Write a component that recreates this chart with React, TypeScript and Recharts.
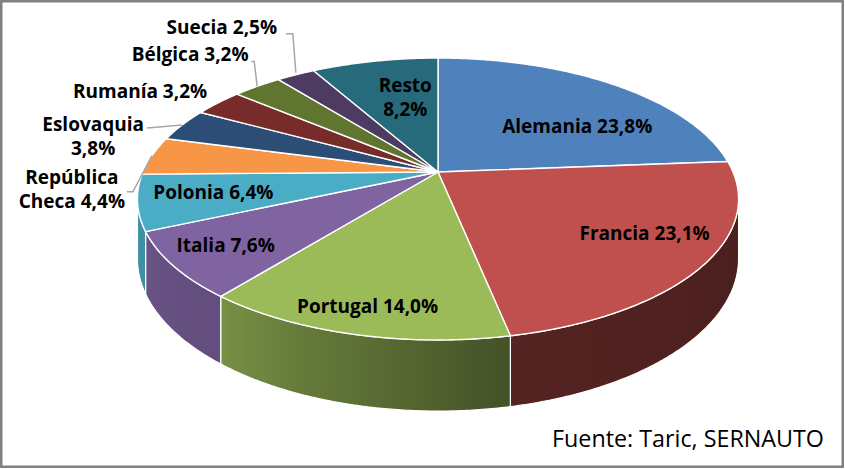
import React from 'react';
import { PieChart, Pie, Cell } from 'recharts';

// ---- data ----
const countries = ['Alemania', 'Francia', 'Portugal', 'Italia', 'Polonia', 'República Checa', 'Eslovaquia', 'Rumanía', 'Bélgica', 'Suecia', 'Resto'];
const shares = [23.8, 23.1, 14.0, 7.6, 6.4, 4.4, 3.8, 3.2, 3.2, 2.5, 8.2];
const colors = ['#4f81bd', '#c0504d', '#9bbb59', '#8064a2', '#4bacc6', '#f79646', '#2c4d75', '#772c2a', '#5f7530', '#4d3b62', '#276a7c'];
const sourceText = 'Fuente: Taric, SERNAUTO';

const data = countries.map((name, i) => ({ name, value: shares[i] }));

// ---- 3D projection (perspective tilt) ----
const K = 0.1915; // perspective strength
const BS = 0.4603; // vertical squash
const DEP = 0.195; // thickness
const SIG = (Math.asin(K) * 180) / Math.PI;

function proj(cx: number, cy: number, R: number, aDeg: number, r: number, d: number): [number, number] {
  const a = (aDeg * Math.PI) / 180;
  const X = r * Math.cos(a);
  const Y = r * Math.sin(a);
  const w = 1 + K * Y;
  return [cx + (R * X) / w, cy + (R * (-BS * Y + DEP * d)) / w];
}

const SHADE: [number, number][] = [
  [-169, 0.86],
  [-129, 0.77],
  [-79, 0.44],
  [-11, 0.38],
];
function shadeAt(a: number) {
  if (a <= SHADE[0][0]) return SHADE[0][1];
  for (let i = 1; i < SHADE.length; i++) {
    if (a <= SHADE[i][0]) {
      const [a0, f0] = SHADE[i - 1];
      const [a1, f1] = SHADE[i];
      return f0 + ((f1 - f0) * (a - a0)) / (a1 - a0);
    }
  }
  return SHADE[SHADE.length - 1][1];
}
function shadeColor(hex: string, f: number) {
  const n = parseInt(hex.slice(1), 16);
  const r = Math.round(((n >> 16) & 255) * f);
  const g = Math.round(((n >> 8) & 255) * f);
  const b = Math.round((n & 255) * f);
  return `rgb(${r},${g},${b})`;
}

function Slice3D(props: any) {
  const { cx, cy, outerRadius: R, startAngle, endAngle, index } = props;
  const base = colors[index] || props.fill;
  const span = endAngle - startAngle;
  const n = Math.max(2, Math.ceil(Math.abs(span) * 2));
  let top = `M${cx},${cy}`;
  for (let i = 0; i <= n; i++) {
    const a = startAngle + (span * i) / n;
    const [x, y] = proj(cx, cy, R, a, 1, 0);
    top += `L${x.toFixed(2)},${y.toFixed(2)}`;
  }
  top += 'Z';

  const lo = Math.min(startAngle, endAngle);
  const hi = Math.max(startAngle, endAngle);
  const walls: { a: number; b: number; shift: number }[] = [];
  for (const shift of [-360, 0, 360]) {
    const f1 = -(180 - SIG) + shift;
    const f2 = -SIG + shift;
    const a = Math.max(lo, f1);
    const b = Math.min(hi, f2);
    if (b - a > 0.01) walls.push({ a, b, shift });
  }

  return (
    <g>
      {walls.map((wl, wi) => {
        const m = Math.max(2, Math.ceil((wl.b - wl.a) * 2));
        let p = '';
        for (let i = 0; i <= m; i++) {
          const a = wl.a + ((wl.b - wl.a) * i) / m;
          const [x, y] = proj(cx, cy, R, a, 1, 0);
          p += `${i === 0 ? 'M' : 'L'}${x.toFixed(2)},${y.toFixed(2)}`;
        }
        for (let i = m; i >= 0; i--) {
          const a = wl.a + ((wl.b - wl.a) * i) / m;
          const [x, y] = proj(cx, cy, R, a, 1, 1);
          p += `L${x.toFixed(2)},${y.toFixed(2)}`;
        }
        p += 'Z';
        const x1 = proj(cx, cy, R, wl.a, 1, 0)[0];
        const x2 = proj(cx, cy, R, wl.b, 1, 0)[0];
        const id = `wall-${index}-${wi}`;
        const stops = [];
        for (let i = 0; i <= 8; i++) {
          const a = wl.a + ((wl.b - wl.a) * i) / 8;
          const x = proj(cx, cy, R, a, 1, 0)[0];
          const off = x2 === x1 ? 0 : (x - x1) / (x2 - x1);
          stops.push(<stop key={i} offset={Math.min(1, Math.max(0, off))} stopColor={shadeColor(base, shadeAt(a - wl.shift))} />);
        }
        return (
          <g key={wi}>
            <defs>
              <linearGradient id={id} gradientUnits="userSpaceOnUse" x1={x1} y1={0} x2={x2} y2={0}>
                {stops}
              </linearGradient>
            </defs>
            <path d={p} fill={`url(#${id})`} stroke="#ffffff" strokeWidth={1.2} strokeLinejoin="round" />
          </g>
        );
      })}
      <path d={top} fill={base} stroke="#ffffff" strokeWidth={1.4} strokeLinejoin="round" />
    </g>
  );
}

// ---- label layout (relative to projected slice points) ----
type Lay = { r: number; dx: number; dy: number; lines?: number; leader?: [number, number][] };
const labelLayout: Lay[] = [
  { r: 0.62, dx: 25, dy: 11 },
  { r: 0.8, dx: -1, dy: -11 },
  { r: 0.8, dx: -5, dy: 10 },
  { r: 0.7, dx: -34, dy: 10 },
  { r: 0.7, dx: -17, dy: -1 },
  { r: 1, dx: -80, dy: 33, lines: 2, leader: [[0, 0], [-19, 36], [-25, 36]] },
  { r: 1, dx: -89, dy: 11, lines: 2, leader: [[0, 0], [-35, 3]] },
  { r: 1, dx: -78, dy: -12 },
  { r: 1, dx: -67, dy: -32, leader: [[0, 0], [-3, -25], [-6, -25]] },
  { r: 1, dx: -74, dy: -48, leader: [[0, -2], [-3, -41], [-10, -41]] },
  { r: 0.62, dx: 9, dy: -1.5, lines: 2 },
];

const fmt = (v: number) => `${v.toFixed(1).replace('.', ',')}%`;

function renderLabel(props: any) {
  const { cx, cy, outerRadius: R, midAngle, index } = props;
  const L = labelLayout[index];
  const [ax, ay] = proj(cx, cy, R, midAngle, L.r, 0);
  const x = ax + L.dx;
  const y = ay + L.dy;
  const full = `${countries[index]} ${fmt(shares[index])}`;
  let lines = [full];
  if (L.lines === 2) {
    const k = full.indexOf(' ');
    lines = [full.slice(0, k), full.slice(k + 1)];
  }
  const lh = 24;
  return (
    <g key={`lab-${index}`}>
      {L.leader && (
        <polyline
          points={L.leader.map(([px, py]) => `${ax + px},${ay + py}`).join(' ')}
          fill="none"
          stroke="#a6a6a6"
          strokeWidth={1.5}
        />
      )}
      {lines.map((t, i) => (
        <text
          key={i}
          x={x}
          y={y + (i - (lines.length - 1) / 2) * lh}
          textAnchor="middle"
          dominantBaseline="central"
          fontFamily="'Open Sans', sans-serif"
          fontWeight={700}
          fontSize={19}
          fill="#000000"
        >
          {t}
        </text>
      ))}
    </g>
  );
}

export default function App() {
  return (
    <div style={{ position: 'absolute', left: 0, top: 0, width: 845, height: 469, background: '#ffffff' }}>
      <PieChart width={845} height={469} margin={{ top: 0, right: 0, bottom: 0, left: 0 }}>
        <Pie
          data={data}
          dataKey="value"
          nameKey="name"
          cx={438}
          cy={172}
          outerRadius={295}
          startAngle={90}
          endAngle={-270}
          stroke="none"
          shape={Slice3D}
          label={renderLabel}
          labelLine={false}
          isAnimationActive={false}
        >
          {data.map((d, i) => (
            <Cell key={d.name} fill={colors[i]} />
          ))}
        </Pie>
      </PieChart>
      <svg width={845} height={469} style={{ position: 'absolute', left: 0, top: 0, pointerEvents: 'none' }}>
        <rect x={1.25} y={1.25} width={841.5} height={465.5} fill="none" stroke="#808080" strokeWidth={2.5} />
        <text x={824} y={447} textAnchor="end" fontFamily="'Open Sans', sans-serif" fontSize={23.3} fill="#000000">
          {sourceText}
        </text>
      </svg>
    </div>
  );
}
